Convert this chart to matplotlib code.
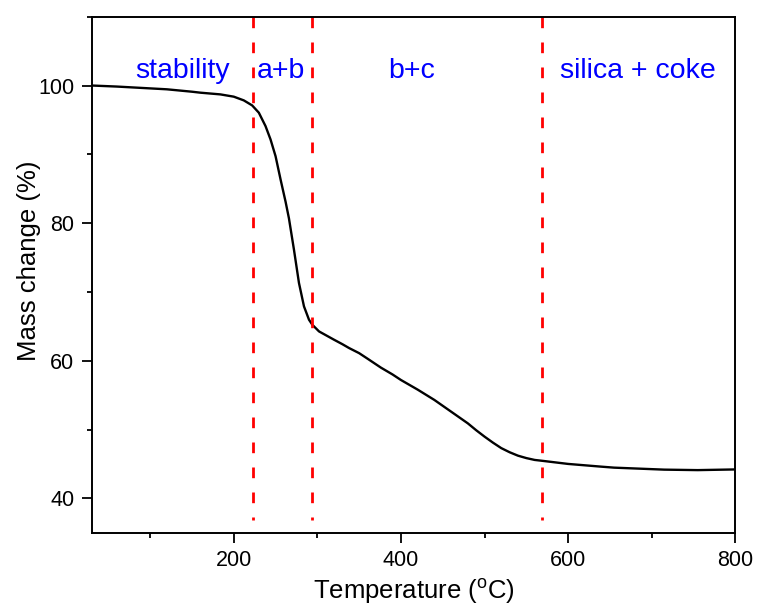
import matplotlib
matplotlib.use('Agg')
import matplotlib.pyplot as plt
from matplotlib.ticker import MultipleLocator

plt.rcParams['font.family'] = ['Liberation Sans', 'DejaVu Sans']
plt.rcParams['mathtext.fontset'] = 'custom'
plt.rcParams['mathtext.rm'] = 'Liberation Sans'

# TGA curve
temperature = [30, 60, 90, 120, 150, 160, 184, 200, 212, 222, 230, 238, 244, 250,
               256, 262, 266, 272, 278, 284, 290, 294, 302, 320, 330, 338, 350,
               360, 376, 390, 400, 420, 440, 460, 480, 490, 500, 510, 520, 530,
               540, 550, 560, 570, 600, 640, 655, 715, 755, 800]
mass = [100.0, 99.85, 99.65, 99.45, 99.1, 98.96, 98.71, 98.38, 97.84, 97.11, 96.05,
        94.1, 92.16, 89.73, 86.34, 83.1, 80.7, 76.15, 71.3, 67.9, 65.96, 65.23,
        64.26, 63.05, 62.4, 61.84, 61.1, 60.3, 59.0, 58.0, 57.2, 55.8, 54.3,
        52.6, 50.9, 49.9, 48.97, 48.1, 47.3, 46.7, 46.2, 45.85, 45.58,
        45.44, 45.0, 44.6, 44.46, 44.17, 44.1, 44.2]

region_bounds = [223, 294, 569]
region_labels = ['stability', 'a+b', 'b+c', 'silica + coke']
label_x = [139, 257, 413, 683.5]

fig = plt.figure(figsize=(7.57, 6.08), dpi=100)
ax = fig.add_axes([0.1211, 0.1238, 0.8502, 0.8487])

ax.plot(temperature, mass, color='black', lw=1.7, solid_joinstyle='round')

for xb in region_bounds:
    ax.plot([xb, xb], [110, 36.85], color='#FF0000', lw=2,
            linestyle=(0, (3.85, 5.15)))

for lab, lx in zip(region_labels, label_x):
    ax.text(lx, 101.1, lab, color='#0000FF', fontsize=20.5,
            ha='center', va='baseline')

ax.set_xlim(30, 800)
ax.set_ylim(35, 110)
ax.xaxis.set_major_locator(MultipleLocator(200))
ax.xaxis.set_minor_locator(MultipleLocator(100))
ax.yaxis.set_minor_locator(MultipleLocator(10))
ax.set_yticks([40, 60, 80, 100])

ax.tick_params(which='major', direction='out', length=7.5, width=1.3,
               labelsize=15.5, pad=5)
ax.tick_params(which='minor', direction='out', length=3.6, width=1.3)
for sp in ax.spines.values():
    sp.set_linewidth(1.4)

ax.set_xlabel(r'Temperature ($^{\mathregular{o}}$C)', fontsize=18.5)
ax.set_ylabel('Mass change (%)', fontsize=18.5)
ax.xaxis.set_label_coords(0.5, -0.085)
ax.yaxis.set_label_coords(-0.078, 0.527)

fig.savefig('out.png', dpi=100)
